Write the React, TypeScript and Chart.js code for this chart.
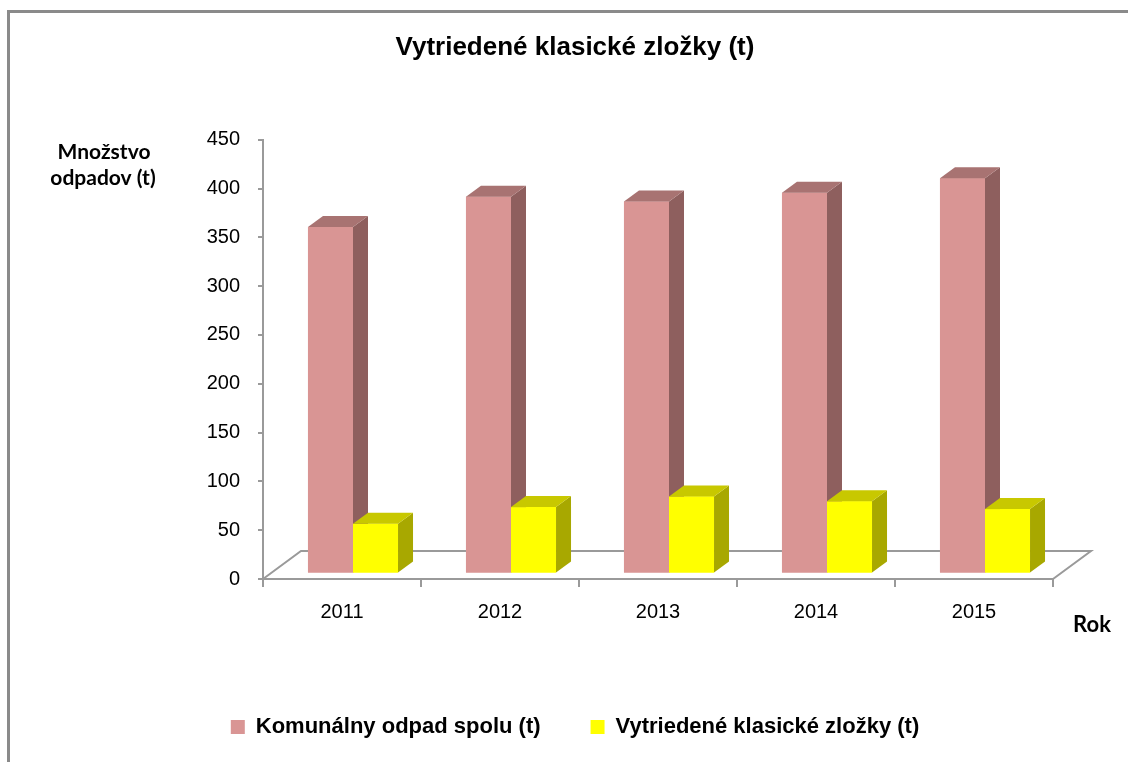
import React, { useEffect, useRef } from 'react';
import { Chart, registerables } from 'chart.js';

Chart.register(...registerables);

// ---- data ----
const years = ['2011', '2012', '2013', '2014', '2015'];
const totalWaste = [355, 386, 381, 390, 405];
const sortedWaste = [51, 68, 79, 74, 66];
const seriesNames = ['Komunálny odpad spolu (t)', 'Vytriedené klasické zložky (t)'];
const chartTitle = 'Vytriedené klasické zložky (t)';
const yTitleLines = ['Množstvo', 'odpadov (t)'];
const xTitle = 'Rok';
const yMin = 0;
const yMax = 450;
const yStep = 50;

// ---- style ----
const W = 1128;
const H = 762;
const frontColors = ['#D99594', '#FFFF00'];
const sideColors = ['#8E5F5E', '#A8A800'];
const topColors = ['#A87372', '#C8C800'];
const axisGray = '#9a9a9a';
const DEPTH_X = 15;
const DEPTH_Y = 11;
const SHIFT_X = 11;
const SHIFT_Y = -5.5;
const FLOOR_X = 38;
const FLOOR_Y = 28;

const framePlugin = {
  id: 'frame',
  beforeDraw(chart: any) {
    const ctx = chart.ctx;
    ctx.save();
    ctx.strokeStyle = '#8a8a8a';
    ctx.lineWidth = 3;
    ctx.beginPath();
    ctx.moveTo(8.5, H);
    ctx.lineTo(8.5, 11.5);
    ctx.lineTo(W, 11.5);
    ctx.stroke();
    ctx.restore();
  },
};

const bars3dPlugin = {
  id: 'bars3d',
  beforeDatasetsDraw(chart: any) {
    const ctx = chart.ctx;
    const a = chart.chartArea;
    // floor (3D base)
    ctx.save();
    ctx.strokeStyle = axisGray;
    ctx.lineWidth = 2;
    ctx.beginPath();
    ctx.moveTo(a.left, a.bottom);
    ctx.lineTo(a.left + FLOOR_X, a.bottom - FLOOR_Y);
    ctx.lineTo(a.right + FLOOR_X, a.bottom - FLOOR_Y);
    ctx.lineTo(a.right, a.bottom);
    ctx.stroke();
    ctx.restore();
    ctx.save();
    ctx.translate(SHIFT_X, SHIFT_Y);
  },
  afterDatasetsDraw(chart: any) {
    const ctx = chart.ctx;
    const n = chart.data.labels.length;
    for (let i = 0; i < n; i++) {
      for (let di = 0; di < chart.data.datasets.length; di++) {
        const meta = chart.getDatasetMeta(di);
        const el = meta.data[i];
        if (!el) continue;
        const { x, y, base, width } = el.getProps(['x', 'y', 'base', 'width'], true);
        const left = x - width / 2;
        const right = x + width / 2;
        ctx.fillStyle = frontColors[di];
        ctx.fillRect(left, y, width, base - y);
        ctx.fillStyle = sideColors[di];
        ctx.beginPath();
        ctx.moveTo(right, y);
        ctx.lineTo(right + DEPTH_X, y - DEPTH_Y);
        ctx.lineTo(right + DEPTH_X, base - DEPTH_Y);
        ctx.lineTo(right, base);
        ctx.closePath();
        ctx.fill();
        ctx.fillStyle = topColors[di];
        ctx.beginPath();
        ctx.moveTo(left, y);
        ctx.lineTo(left + DEPTH_X, y - DEPTH_Y);
        ctx.lineTo(right + DEPTH_X, y - DEPTH_Y);
        ctx.lineTo(right, y);
        ctx.closePath();
        ctx.fill();
      }
    }
    ctx.restore();
  },
};

const textPlugin = {
  id: 'extraText',
  afterDraw(chart: any) {
    const ctx = chart.ctx;
    ctx.save();
    ctx.fillStyle = '#000';
    ctx.textAlign = 'center';
    ctx.textBaseline = 'alphabetic';
    ctx.font = 'bold 21px Lato';
    ctx.fillText(yTitleLines[0], 104, 158.5);
    ctx.fillText(yTitleLines[1], 103, 185);
    ctx.font = 'bold 22px Lato';
    ctx.fillText(xTitle, 1092, 631.5);
    ctx.restore();
  },
};

export default function App() {
  const ref = useRef<HTMLCanvasElement | null>(null);

  useEffect(() => {
    if (!ref.current) return;
    Chart.defaults.font.family = "'Liberation Sans', Arial, sans-serif";
    Chart.defaults.color = '#000';
    const chart = new Chart(ref.current, {
      type: 'bar',
      data: {
        labels: years,
        datasets: [
          {
            label: seriesNames[0],
            data: totalWaste,
            backgroundColor: frontColors[0],
            borderWidth: 0,
            categoryPercentage: 0.57,
            barPercentage: 1.0,
            clip: false as any,
          },
          {
            label: seriesNames[1],
            data: sortedWaste,
            backgroundColor: frontColors[1],
            borderWidth: 0,
            categoryPercentage: 0.57,
            barPercentage: 1.0,
            clip: false as any,
          },
        ],
      },
      options: {
        responsive: false,
        animation: false,
        devicePixelRatio: 1,
        layout: { padding: { left: 22, right: 0, top: 0, bottom: 14 } },
        plugins: {
          title: {
            display: true,
            text: chartTitle,
            color: '#000',
            font: { size: 26, weight: 'bold', family: "'Liberation Sans', Arial, sans-serif" },
            padding: { top: 32, bottom: 76.5 },
          },
          legend: {
            display: true,
            position: 'bottom',
            labels: {
              boxWidth: 14,
              boxHeight: 14,
              padding: 50,
              color: '#000',
              font: { size: 22, weight: 'bold', family: "'Liberation Sans', Arial, sans-serif" },
              sort: (a: any, b: any) => a.datasetIndex - b.datasetIndex,
            },
          },
          tooltip: { enabled: false },
        },
        scales: {
          x: {
            type: 'category',
            grid: {
              display: true,
              drawOnChartArea: false,
              drawTicks: true,
              tickLength: 8,
              color: axisGray,
              lineWidth: 2,
              offset: true,
            },
            border: { display: true, color: axisGray, width: 2 },
            ticks: { font: { size: 20 }, color: '#000', padding: 13, maxRotation: 0 },
            afterFit: (s: any) => {
              s.height = 87;
            },
          },
          y: {
            min: yMin,
            max: yMax,
            grid: {
              display: true,
              drawOnChartArea: false,
              drawTicks: true,
              tickLength: 5,
              color: axisGray,
              lineWidth: 2,
            },
            border: { display: true, color: axisGray, width: 2 },
            ticks: { stepSize: yStep, font: { size: 20 }, color: '#000', padding: 18 },
            afterFit: (s: any) => {
              s.width = 241;
            },
          },
          yRight: {
            position: 'right',
            display: true,
            grid: { display: false },
            border: { display: false },
            ticks: { display: false },
            afterFit: (s: any) => {
              s.width = 75;
            },
          },
        },
      } as any,
      plugins: [framePlugin, bars3dPlugin, textPlugin],
    });
    return () => chart.destroy();
  }, []);

  return (
    <div style={{ position: 'fixed', left: 0, top: 0, width: W, height: H, background: '#fff' }}>
      <canvas ref={ref} width={W} height={H} style={{ display: 'block' }} />
    </div>
  );
}
